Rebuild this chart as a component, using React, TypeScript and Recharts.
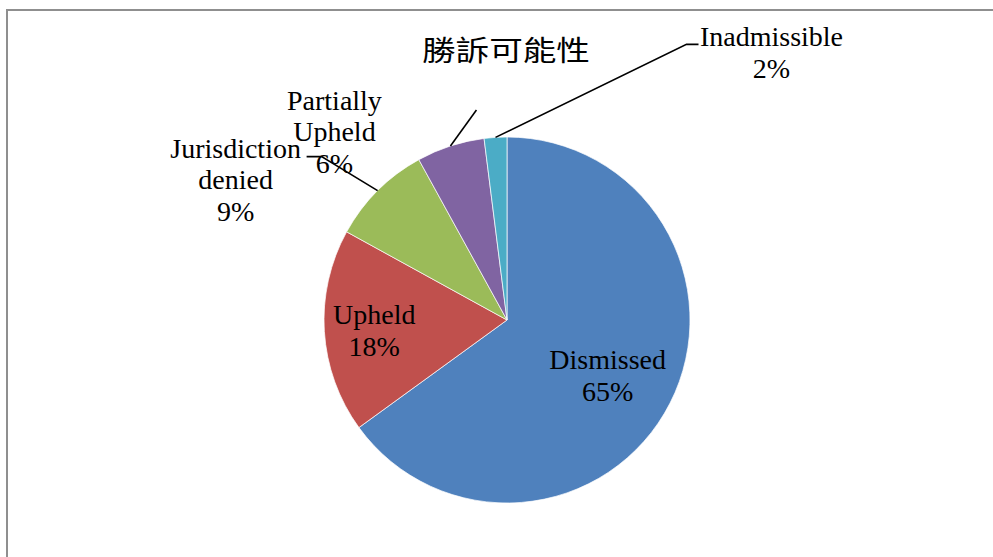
import { PieChart, Pie, Cell } from 'recharts'

const categories = ['Dismissed', 'Upheld', 'Jurisdiction denied', 'Partially Upheld', 'Inadmissible']
const shares = [65, 18, 9, 6, 2]
const labelWords = [['Dismissed'], ['Upheld'], ['Jurisdiction', 'denied'], ['Partially', 'Upheld'], ['Inadmissible']]
const sliceColors = ['#4f81bd', '#c0504d', '#9bbb59', '#8064a2', '#4bacc6']
const chartTitle = '勝訴可能性'

const data = categories.map((name, i) => ({ name, value: shares[i] }))

// where each data label sits: inside ones by radius, outside ones by offset from the slice edge
type Placement =
  | { inside: true; r: number; first: number }
  | { inside: false; bend: [number, number]; end?: [number, number]; text: [number, number] }

const placements: Placement[] = [
  { inside: true, r: 113, first: -2 },
  { inside: true, r: 133, first: -4 },
  { inside: false, bend: [-56, -34], end: [-71, -34], text: [-142, -33] },
  { inside: false, bend: [26, -36], text: [-116, -36] },
  { inside: false, bend: [191, -93], end: [203, -93], text: [276, -91] },
]

const font = "'Liberation Serif', 'Times New Roman', serif"
const lineGap = 31.5
const RAD = Math.PI / 180

function renderLabel(props: any) {
  const { cx, cy, midAngle, outerRadius, index, value } = props
  const place = placements[index]
  const lines = [...labelWords[index], `${value}%`]
  const cos = Math.cos(-midAngle * RAD)
  const sin = Math.sin(-midAngle * RAD)

  if (place.inside) {
    const x = cx + place.r * cos
    const y = cy + place.r * sin
    return (
      <text x={x} y={y + place.first} textAnchor="middle" fontFamily={font} fontSize={28} fill="#000">
        {lines.map((l, i) => (
          <tspan key={i} x={x} dy={i === 0 ? 0 : lineGap}>{l}</tspan>
        ))}
      </text>
    )
  }

  const ex = cx + outerRadius * cos
  const ey = cy + outerRadius * sin
  const pts = [[ex, ey], [ex + place.bend[0], ey + place.bend[1]]]
  if (place.end) pts.push([ex + place.end[0], ey + place.end[1]])
  const tx = ex + place.text[0]
  const ty = ey + place.text[1]
  return (
    <g>
      <polyline points={pts.map((p) => p.join(',')).join(' ')} fill="none" stroke="#000" strokeWidth={1.6} />
      <text x={tx} y={ty} textAnchor="middle" fontFamily={font} fontSize={28} fill="#000">
        {lines.map((l, i) => (
          <tspan key={i} x={tx} dy={i === 0 ? 0 : lineGap}>{l}</tspan>
        ))}
      </text>
    </g>
  )
}

export default function App() {
  return (
    <div style={{ position: 'absolute', left: 0, top: 0, width: 993, height: 557, background: '#fff', overflow: 'hidden' }}>
      <PieChart width={993} height={557} margin={{ top: 0, right: 0, bottom: 0, left: 0 }}>
        <Pie
          data={data}
          dataKey="value"
          nameKey="name"
          cx={507}
          cy={320}
          outerRadius={183}
          startAngle={90}
          endAngle={-270}
          stroke="#ffffff"
          strokeWidth={0.7}
          label={renderLabel}
          labelLine={false}
          isAnimationActive={false}
        >
          {data.map((d, i) => (
            <Cell key={d.name} fill={sliceColors[i]} />
          ))}
        </Pie>
      </PieChart>
      <svg width={993} height={557} style={{ position: 'absolute', left: 0, top: 0, pointerEvents: 'none' }}>
        <rect x={7} y={10} width={1100} height={700} fill="none" stroke="#8f8f8f" strokeWidth={2} />
        <text
          transform="translate(422,61) scale(1.2,1)"
          fontFamily="'Noto Sans CJK TC', 'Noto Sans CJK JP', sans-serif"
          fontSize={28}
          fill="#000"
        >
          {chartTitle}
        </text>
      </svg>
    </div>
  )
}
